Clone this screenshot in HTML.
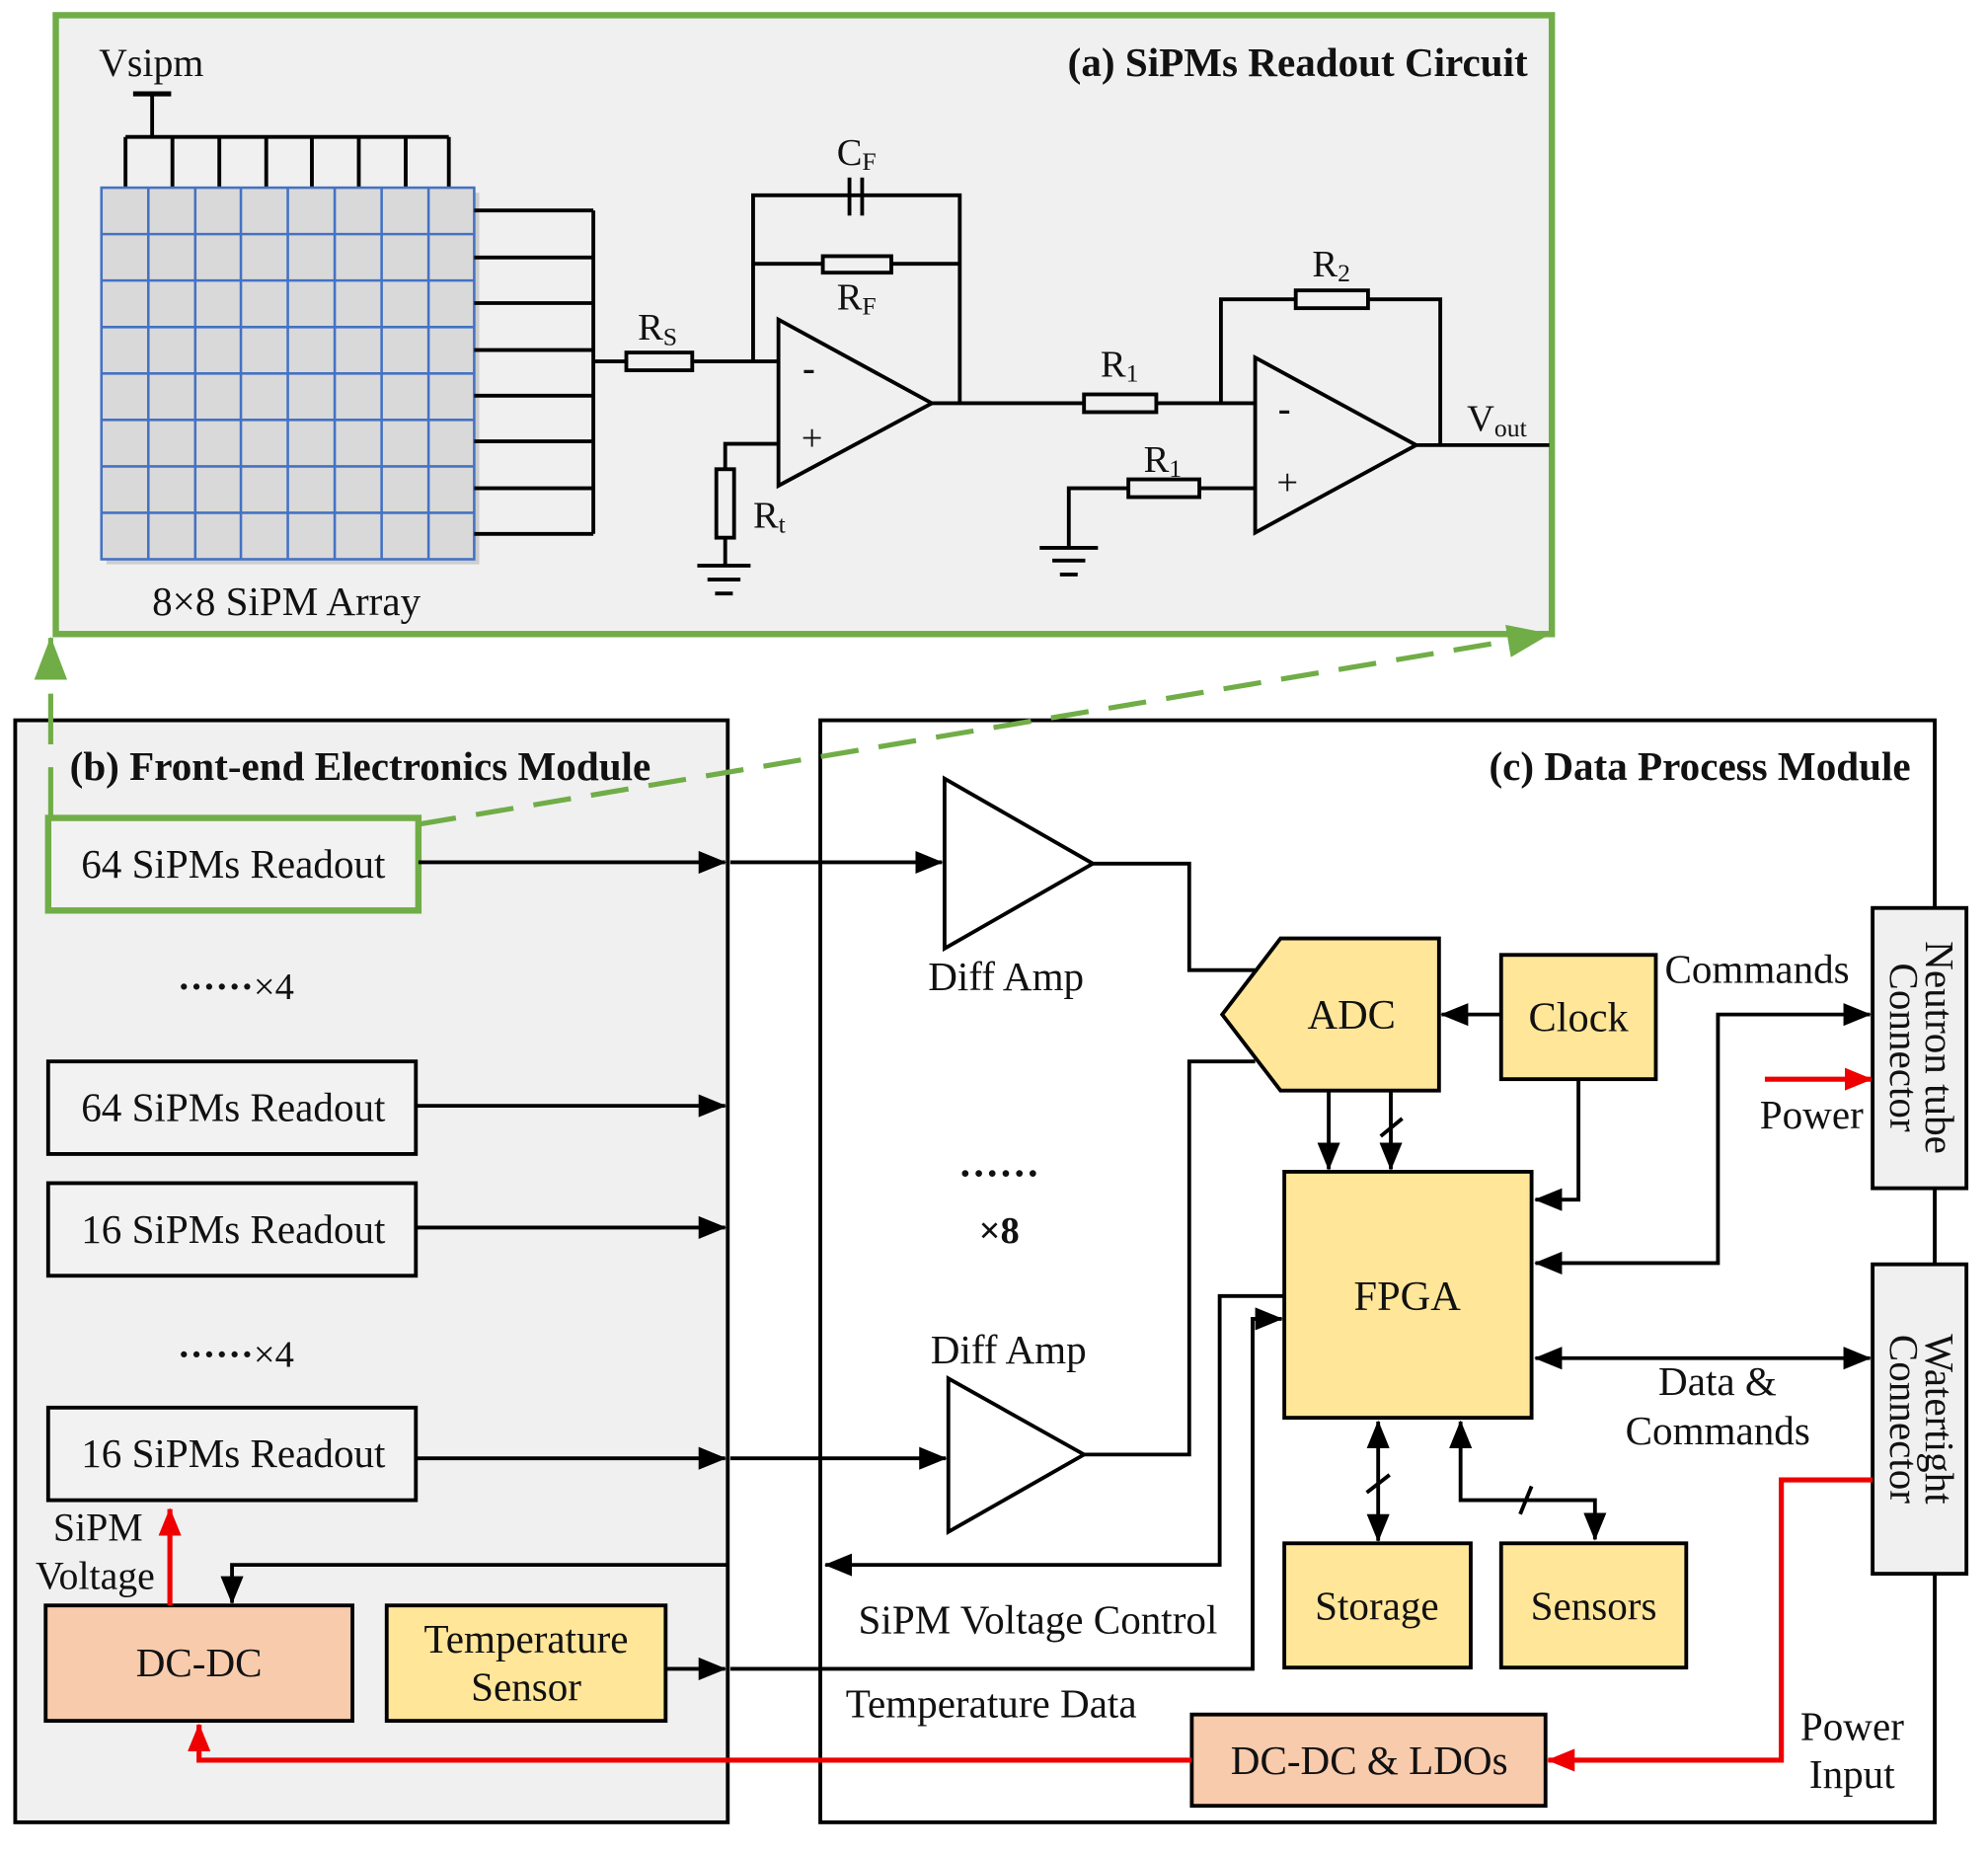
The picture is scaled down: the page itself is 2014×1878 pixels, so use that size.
<!DOCTYPE html>
<html><head><meta charset="utf-8"><style>
html,body{margin:0;padding:0;background:#fff;}
svg{display:block;}
text{font-family:"Liberation Serif",serif;fill:#111;}
.b{font-weight:bold;}
</style></head><body>
<svg width="2014" height="1878" viewBox="0 0 1568 1462" preserveAspectRatio="none" xmlns="http://www.w3.org/2000/svg">
<defs>
<marker id="ab" markerWidth="22" markerHeight="18" refX="21" refY="9" orient="auto" markerUnits="userSpaceOnUse"><path d="M0,0 L22,9 L0,18z" fill="#000"/></marker>
<marker id="abs" markerWidth="22" markerHeight="18" refX="1" refY="9" orient="auto" markerUnits="userSpaceOnUse"><path d="M22,0 L0,9 L22,18z" fill="#000"/></marker>
<marker id="ar" markerWidth="22" markerHeight="18" refX="21" refY="9" orient="auto" markerUnits="userSpaceOnUse"><path d="M0,0 L22,9 L0,18z" fill="#e00"/></marker>
<marker id="ag" markerWidth="34" markerHeight="26" refX="33" refY="13" orient="auto" markerUnits="userSpaceOnUse"><path d="M0,0 L34,13 L0,26z" fill="#70ad47"/></marker>
</defs>
<rect width="1568" height="1462" fill="#fff"/>

<!-- Panel a -->
<rect x="44" y="12" width="1180" height="488" fill="#f0f0f0" stroke="#70ad47" stroke-width="5"/>
<text x="1205" y="60" font-size="32" class="b" text-anchor="end">(a) SiPMs Readout Circuit</text>
<text x="78" y="60" font-size="31">Vsipm</text>
<g stroke="#000" stroke-width="3" fill="none">
<line x1="105" y1="74" x2="135" y2="74" stroke-width="4"/>
<line x1="120" y1="74" x2="120" y2="108"/>
<line x1="99" y1="108" x2="354" y2="108"/>
<path d="M99 108V148M136 108V148M173 108V148M210 108V148M246 108V148M283 108V148M320 108V148M354 108V148"/>
</g>
<rect x="84" y="152" width="294" height="293" fill="#aaa" opacity="0.5"/>
<rect x="80" y="148" width="294" height="293" fill="#d9d9d9" stroke="#4472c4" stroke-width="2"/>
<g stroke="#4472c4" stroke-width="2">
<path d="M117 148V441M154 148V441M190 148V441M227 148V441M264 148V441M301 148V441M338 148V441"/>
<path d="M80 184.6H374M80 221.2H374M80 257.9H374M80 294.5H374M80 331.1H374M80 367.8H374M80 404.4H374"/>
</g>
<g stroke="#000" stroke-width="3" fill="none">
<path d="M374 166H468M374 203H468M374 239H468M374 276H468M374 312H468M374 348H468M374 385H468M374 421H468"/>
<line x1="468" y1="166" x2="468" y2="421"/>
<line x1="468" y1="285" x2="494" y2="285"/>
<rect x="494" y="278" width="52" height="14" fill="#f0f0f0"/>
<line x1="546" y1="285" x2="614" y2="285"/>
<polygon points="614,252 614,383 735,318" fill="#f0f0f0"/>
<path d="M594 285V154H757V318"/>
<line x1="670" y1="140" x2="670" y2="170"/><line x1="680" y1="140" x2="680" y2="170"/>
<line x1="594" y1="208" x2="757" y2="208"/>
<rect x="649" y="202" width="54" height="13" fill="#f0f0f0"/>
<path d="M614 350H572V446"/>
<rect x="565" y="370" width="14" height="54" fill="#f0f0f0"/>
<line x1="550" y1="446" x2="592" y2="446"/><line x1="558" y1="457" x2="584" y2="457"/><line x1="564" y1="468" x2="578" y2="468"/>
<line x1="735" y1="318" x2="855" y2="318"/>
<rect x="855" y="311" width="57" height="14" fill="#f0f0f0"/>
<line x1="912" y1="318" x2="990" y2="318"/>
<polygon points="990,282 990,420 1117,351" fill="#f0f0f0"/>
<path d="M963 318V236H1136V351"/>
<rect x="1022" y="229" width="57" height="14" fill="#f0f0f0"/>
<path d="M990 385H946M890 385H843V432"/>
<rect x="890" y="378" width="56" height="14" fill="#f0f0f0"/>
<line x1="820" y1="432" x2="866" y2="432"/><line x1="830" y1="442" x2="856" y2="442"/><line x1="836" y1="453" x2="850" y2="453"/>
<line x1="1117" y1="351" x2="1222" y2="351"/>
</g>
<text x="503" y="268" font-size="30">R<tspan font-size="20" dy="4">S</tspan></text>
<text x="660" y="130" font-size="30">C<tspan font-size="20" dy="4">F</tspan></text>
<text x="660" y="244" font-size="30">R<tspan font-size="20" dy="4">F</tspan></text>
<text x="594" y="416" font-size="30">R<tspan font-size="20" dy="4">t</tspan></text>
<text x="868" y="297" font-size="30">R<tspan font-size="20" dy="4">1</tspan></text>
<text x="902" y="372" font-size="30">R<tspan font-size="20" dy="4">1</tspan></text>
<text x="1035" y="218" font-size="30">R<tspan font-size="20" dy="4">2</tspan></text>
<text x="1157" y="340" font-size="30">V<tspan font-size="20" dy="4">out</tspan></text>
<text x="633" y="300" font-size="30" class="b">-</text>
<text x="632" y="355" font-size="30">+</text>
<text x="1008" y="332" font-size="30" class="b">-</text>
<text x="1007" y="390" font-size="30">+</text>
<text x="120" y="485" font-size="32">8×8 SiPM Array</text>

<!-- Panel b -->
<rect x="12" y="568" width="562" height="869" fill="#f0f0f0" stroke="#000" stroke-width="3"/>
<text x="55" y="615" font-size="32" class="b">(b)  Front-end Electronics Module</text>
<rect x="38" y="645" width="292" height="73" fill="#f2f2f2" stroke="#70ad47" stroke-width="5"/>
<text x="184" y="692" font-size="32" text-anchor="middle">64 SiPMs Readout</text>
<text x="140" y="788" font-size="30" class="b">······<tspan font-weight="normal">×4</tspan></text>
<rect x="38" y="837" width="290" height="73" fill="#f2f2f2" stroke="#000" stroke-width="3"/>
<text x="184" y="884" font-size="32" text-anchor="middle">64 SiPMs Readout</text>
<rect x="38" y="933" width="290" height="73" fill="#f2f2f2" stroke="#000" stroke-width="3"/>
<text x="184" y="980" font-size="32" text-anchor="middle">16 SiPMs Readout</text>
<text x="140" y="1078" font-size="30" class="b">······<tspan font-weight="normal">×4</tspan></text>
<rect x="38" y="1110" width="290" height="73" fill="#f2f2f2" stroke="#000" stroke-width="3"/>
<text x="184" y="1157" font-size="32" text-anchor="middle">16 SiPMs Readout</text>
<g stroke="#000" stroke-width="3" fill="none">
<line x1="330" y1="680" x2="572" y2="680" marker-end="url(#ab)"/>
<line x1="328" y1="872" x2="572" y2="872" marker-end="url(#ab)"/>
<line x1="328" y1="968" x2="572" y2="968" marker-end="url(#ab)"/>
<line x1="328" y1="1150" x2="572" y2="1150" marker-end="url(#ab)"/>
<path d="M574 1234H183V1264" marker-end="url(#ab)"/>
<line x1="525" y1="1316" x2="572" y2="1316" marker-end="url(#ab)"/>
</g>
<rect x="36" y="1266" width="242" height="91" fill="#f8cbad" stroke="#000" stroke-width="3"/>
<text x="157" y="1322" font-size="32" text-anchor="middle">DC-DC</text>
<rect x="305" y="1266" width="220" height="91" fill="#ffe699" stroke="#000" stroke-width="3"/>
<text x="415" y="1303" font-size="32" text-anchor="middle">Temperature</text>
<text x="415" y="1341" font-size="32" text-anchor="middle">Sensor</text>
<line x1="134" y1="1266" x2="134" y2="1190" stroke="#e00" stroke-width="4" marker-end="url(#ar)"/>
<text x="42" y="1215" font-size="31">SiPM</text>
<text x="28" y="1253" font-size="31">Voltage</text>

<!-- Panel c -->
<rect x="647" y="568" width="879" height="869" fill="#fff" stroke="#000" stroke-width="3"/>
<text x="1507" y="615" font-size="32" class="b" text-anchor="end">(c)  Data Process Module</text>
<g stroke="#000" stroke-width="3" fill="none">
<line x1="576" y1="680" x2="743" y2="680" marker-end="url(#ab)"/>
<polygon points="745,614 745,748 862,681" fill="#fff"/>
<path d="M862 681H938V765H990"/>
<line x1="576" y1="1150" x2="746" y2="1150" marker-end="url(#ab)"/>
<polygon points="748,1087 748,1208 855,1147" fill="#fff"/>
<path d="M855 1147H938V837H990"/>
<line x1="1184" y1="800" x2="1137" y2="800" marker-end="url(#ab)"/>
<line x1="1048" y1="860" x2="1048" y2="922" marker-end="url(#ab)"/>
<line x1="1097" y1="860" x2="1097" y2="922" marker-end="url(#ab)"/>
<line x1="1089" y1="896" x2="1106" y2="882"/>
<path d="M1245 851V946H1211" marker-end="url(#ab)"/>
<path d="M1211 996H1355V800H1475" marker-start="url(#abs)" marker-end="url(#ab)"/>
<line x1="1211" y1="1071" x2="1475" y2="1071" marker-start="url(#abs)" marker-end="url(#ab)"/>
<line x1="1087" y1="1121" x2="1087" y2="1215" marker-start="url(#abs)" marker-end="url(#ab)"/>
<line x1="1078" y1="1177" x2="1096" y2="1163"/>
<path d="M1152 1121V1183H1258V1214" marker-start="url(#abs)" marker-end="url(#ab)"/>
<line x1="1199" y1="1194" x2="1208" y2="1172"/>
<path d="M1013 1022H962V1234H651" marker-end="url(#ab)"/>
<path d="M576 1316H988V1040H1011" marker-end="url(#ab)"/>
</g>
<polygon points="964,800 1010,740 1135,740 1135,860 1010,860" fill="#ffe699" stroke="#000" stroke-width="3"/>
<text x="1066" y="811" font-size="33" text-anchor="middle">ADC</text>
<rect x="1184" y="753" width="122" height="98" fill="#ffe699" stroke="#000" stroke-width="3"/>
<text x="1245" y="813" font-size="33" text-anchor="middle">Clock</text>
<rect x="1013" y="924" width="195" height="194" fill="#ffe699" stroke="#000" stroke-width="3"/>
<text x="1110" y="1033" font-size="33" text-anchor="middle">FPGA</text>
<rect x="1013" y="1217" width="147" height="98" fill="#ffe699" stroke="#000" stroke-width="3"/>
<text x="1086" y="1277" font-size="32" text-anchor="middle">Storage</text>
<rect x="1184" y="1217" width="146" height="98" fill="#ffe699" stroke="#000" stroke-width="3"/>
<text x="1257" y="1277" font-size="32" text-anchor="middle">Sensors</text>
<rect x="940" y="1352" width="279" height="72" fill="#f8cbad" stroke="#000" stroke-width="3"/>
<text x="1080" y="1399" font-size="32" text-anchor="middle">DC-DC &amp; LDOs</text>
<text x="732" y="781" font-size="32">Diff Amp</text>
<text x="734" y="1075" font-size="32">Diff Amp</text>
<text x="756" y="936" font-size="32" class="b">······</text>
<text x="772" y="980" font-size="30" class="b">×8</text>
<text x="1313" y="775" font-size="32">Commands</text>
<text x="1388" y="890" font-size="32">Power</text>
<text x="1308" y="1100" font-size="32">Data &amp;</text>
<text x="1282" y="1139" font-size="32">Commands</text>
<text x="677" y="1288" font-size="32">SiPM Voltage Control</text>
<text x="667" y="1354" font-size="32">Temperature Data</text>
<text x="1420" y="1372" font-size="32">Power</text>
<text x="1427" y="1410" font-size="32">Input</text>
<rect x="1477" y="716" width="74" height="221" fill="#f0f0f0" stroke="#000" stroke-width="3"/>
<text transform="translate(1519,826) rotate(90)" font-size="32" text-anchor="middle">Neutron tube</text>
<text transform="translate(1491,826) rotate(90)" font-size="32" text-anchor="middle">Connector</text>
<rect x="1477" y="997" width="74" height="244" fill="#f0f0f0" stroke="#000" stroke-width="3"/>
<text transform="translate(1519,1119) rotate(90)" font-size="32" text-anchor="middle">Watertight</text>
<text transform="translate(1491,1119) rotate(90)" font-size="32" text-anchor="middle">Connector</text>
<line x1="1392" y1="851" x2="1476" y2="851" stroke="#e00" stroke-width="4" marker-end="url(#ar)"/>
<path d="M1477 1167H1405V1388H1221" stroke="#e00" stroke-width="4" fill="none" marker-end="url(#ar)"/>
<path d="M940 1388H157V1360" stroke="#e00" stroke-width="4" fill="none" marker-end="url(#ar)"/>

<!-- green connectors -->
<line x1="40" y1="645" x2="40" y2="503" stroke="#70ad47" stroke-width="4" stroke-dasharray="40,18" marker-end="url(#ag)"/>
<line x1="330" y1="650" x2="1222" y2="500" stroke="#70ad47" stroke-width="4" stroke-dasharray="30,16" marker-end="url(#ag)"/>
</svg>
</body></html>
